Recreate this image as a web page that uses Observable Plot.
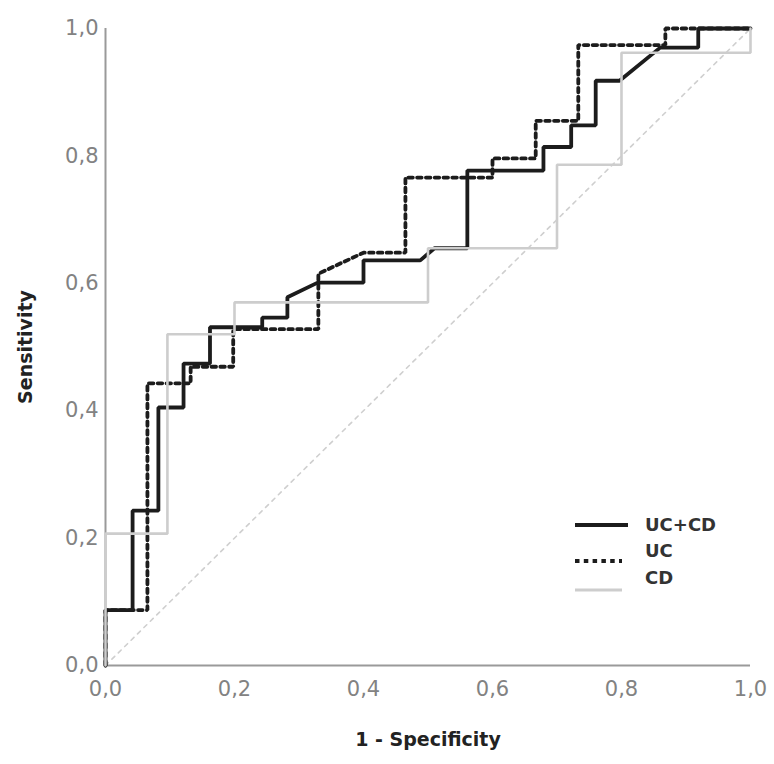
<!DOCTYPE html>
<html><head><meta charset="utf-8">
<script src="https://cdn.jsdelivr.net/npm/d3@7"></script>
<script src="https://cdn.jsdelivr.net/npm/@observablehq/plot@0.6"></script>
<style>
body{margin:0;background:#fff;}
#wrap{position:relative;width:774px;height:764px;}
#wrap svg.overlay{position:absolute;left:0;top:0;pointer-events:none;}
</style></head><body><div id="wrap"></div>
<script>
// ROC curve vertices (1 - specificity, sensitivity)
const seriesNames = ["UC+CD", "UC", "CD"];
const fprUCCD = [0, 0, 0.042, 0.042, 0.082, 0.082, 0.121, 0.121, 0.162, 0.162, 0.243, 0.243, 0.282, 0.282, 0.329, 0.40, 0.40, 0.488, 0.51, 0.561, 0.561, 0.679, 0.679, 0.722, 0.722, 0.76, 0.76, 0.797, 0.86, 0.919, 0.919, 1];
const tprUCCD = [0, 0.087, 0.087, 0.243, 0.243, 0.405, 0.405, 0.474, 0.474, 0.531, 0.531, 0.546, 0.546, 0.578, 0.601, 0.601, 0.636, 0.636, 0.655, 0.655, 0.777, 0.777, 0.814, 0.814, 0.848, 0.848, 0.918, 0.918, 0.97, 0.97, 1, 1];
const fprUC = [0, 0, 0.065, 0.065, 0.132, 0.132, 0.198, 0.198, 0.33, 0.33, 0.40, 0.465, 0.465, 0.60, 0.60, 0.667, 0.667, 0.733, 0.733, 0.868, 0.868, 1];
const tprUC = [0, 0.087, 0.087, 0.443, 0.443, 0.469, 0.469, 0.528, 0.528, 0.615, 0.648, 0.648, 0.766, 0.766, 0.796, 0.796, 0.855, 0.855, 0.974, 0.974, 1, 1];
const fprCD = [0, 0, 0.096, 0.096, 0.20, 0.20, 0.50, 0.50, 0.70, 0.70, 0.80, 0.80, 1, 1];
const tprCD = [0, 0.207, 0.207, 0.52, 0.52, 0.57, 0.57, 0.655, 0.655, 0.786, 0.786, 0.962, 0.962, 1];
const diagonal = [0, 1];
const tickValues = [0, 0.2, 0.4, 0.6, 0.8, 1];
const tickLabels = ["0,0", "0,2", "0,4", "0,6", "0,8", "1,0"];
const xTitle = "1 - Specificity";
const yTitle = "Sensitivity";

const rows = (xs, ys, s) => xs.map((v, i) => ({fpr: v, tpr: ys[i], series: s}));
const ucRows = rows(fprUCCD, tprUCCD, seriesNames[0]);
const uRows = rows(fprUC, tprUC, seriesNames[1]);
const cRows = rows(fprCD, tprCD, seriesNames[2]);
const diagRows = diagonal.map(d => ({fpr: d, tpr: d}));
const fmt = d => tickLabels[tickValues.findIndex(t => Math.abs(t - d) < 1e-9)];

const BLACK = "#1c1c1c", GRAY = "#cdcdcd";
const chart = Plot.plot({
  width: 774, height: 764,
  marginLeft: 105, marginRight: 24, marginTop: 28, marginBottom: 99,
  x: {domain: [0, 1]}, y: {domain: [0, 1]},
  style: {fontFamily: "'DejaVu Sans', sans-serif", background: "#fff"},
  marks: [
    Plot.line(diagRows, {x: "fpr", y: "tpr", stroke: "#cfcfcf", strokeWidth: 1.6, strokeDasharray: "4,5"}),
    Plot.axisX({ticks: tickValues, tickFormat: fmt, tickSize: 0, tickPadding: 16, fontSize: 21, color: "#828282", label: null}),
    Plot.axisY({ticks: tickValues, tickFormat: fmt, tickSize: 0, tickPadding: 7, fontSize: 21, color: "#828282", label: null}),
    Plot.ruleX([0], {stroke: "#9a9a9a", strokeWidth: 2}),
    Plot.ruleY([0], {stroke: "#9a9a9a", strokeWidth: 2}),
    Plot.line(ucRows, {x: "fpr", y: "tpr", stroke: BLACK, strokeWidth: 3.8, strokeLinejoin: "miter"}),
    Plot.line(uRows, {x: "fpr", y: "tpr", stroke: BLACK, strokeWidth: 3.8, strokeDasharray: "4.5,4.3", strokeLinejoin: "miter"}),
    Plot.line(cRows, {x: "fpr", y: "tpr", stroke: GRAY, strokeWidth: 2.6, strokeLinejoin: "miter"}),
    Plot.text([xTitle], {frameAnchor: "bottom", textAnchor: "middle", dy: 80, fontSize: 19, fontWeight: "bold", fill: "#222"}),
    Plot.text([yTitle], {frameAnchor: "left", textAnchor: "middle", dx: -80, rotate: -90, fontSize: 19, fontWeight: "bold", fill: "#222"})
  ]
});
const wrap = document.getElementById("wrap");
wrap.appendChild(chart);

// legend inside the plot area (lower right)
const lg = d3.create("svg").attr("class", "overlay").attr("width", 774).attr("height", 764)
  .style("font-family", "'DejaVu Sans', sans-serif");
const legendItems = [
  {name: seriesNames[0], ly: 525, ty: 525, stroke: BLACK, w: 3.8, dash: null, x2: 628},
  {name: seriesNames[1], ly: 561, ty: 551, stroke: BLACK, w: 3.8, dash: "4.5,4.3", x2: 622},
  {name: seriesNames[2], ly: 590, ty: 578, stroke: GRAY, w: 3, dash: null, x2: 622}
];
for (const it of legendItems) {
  lg.append("line").attr("x1", 575).attr("x2", it.x2).attr("y1", it.ly).attr("y2", it.ly)
    .attr("stroke", it.stroke).attr("stroke-width", it.w).attr("stroke-dasharray", it.dash);
  lg.append("text").attr("x", 645).attr("y", it.ty).attr("dy", "0.36em")
    .attr("font-size", 18).attr("font-weight", "bold").attr("fill", "#333").text(it.name);
}
wrap.appendChild(lg.node());
</script>
</body></html>
